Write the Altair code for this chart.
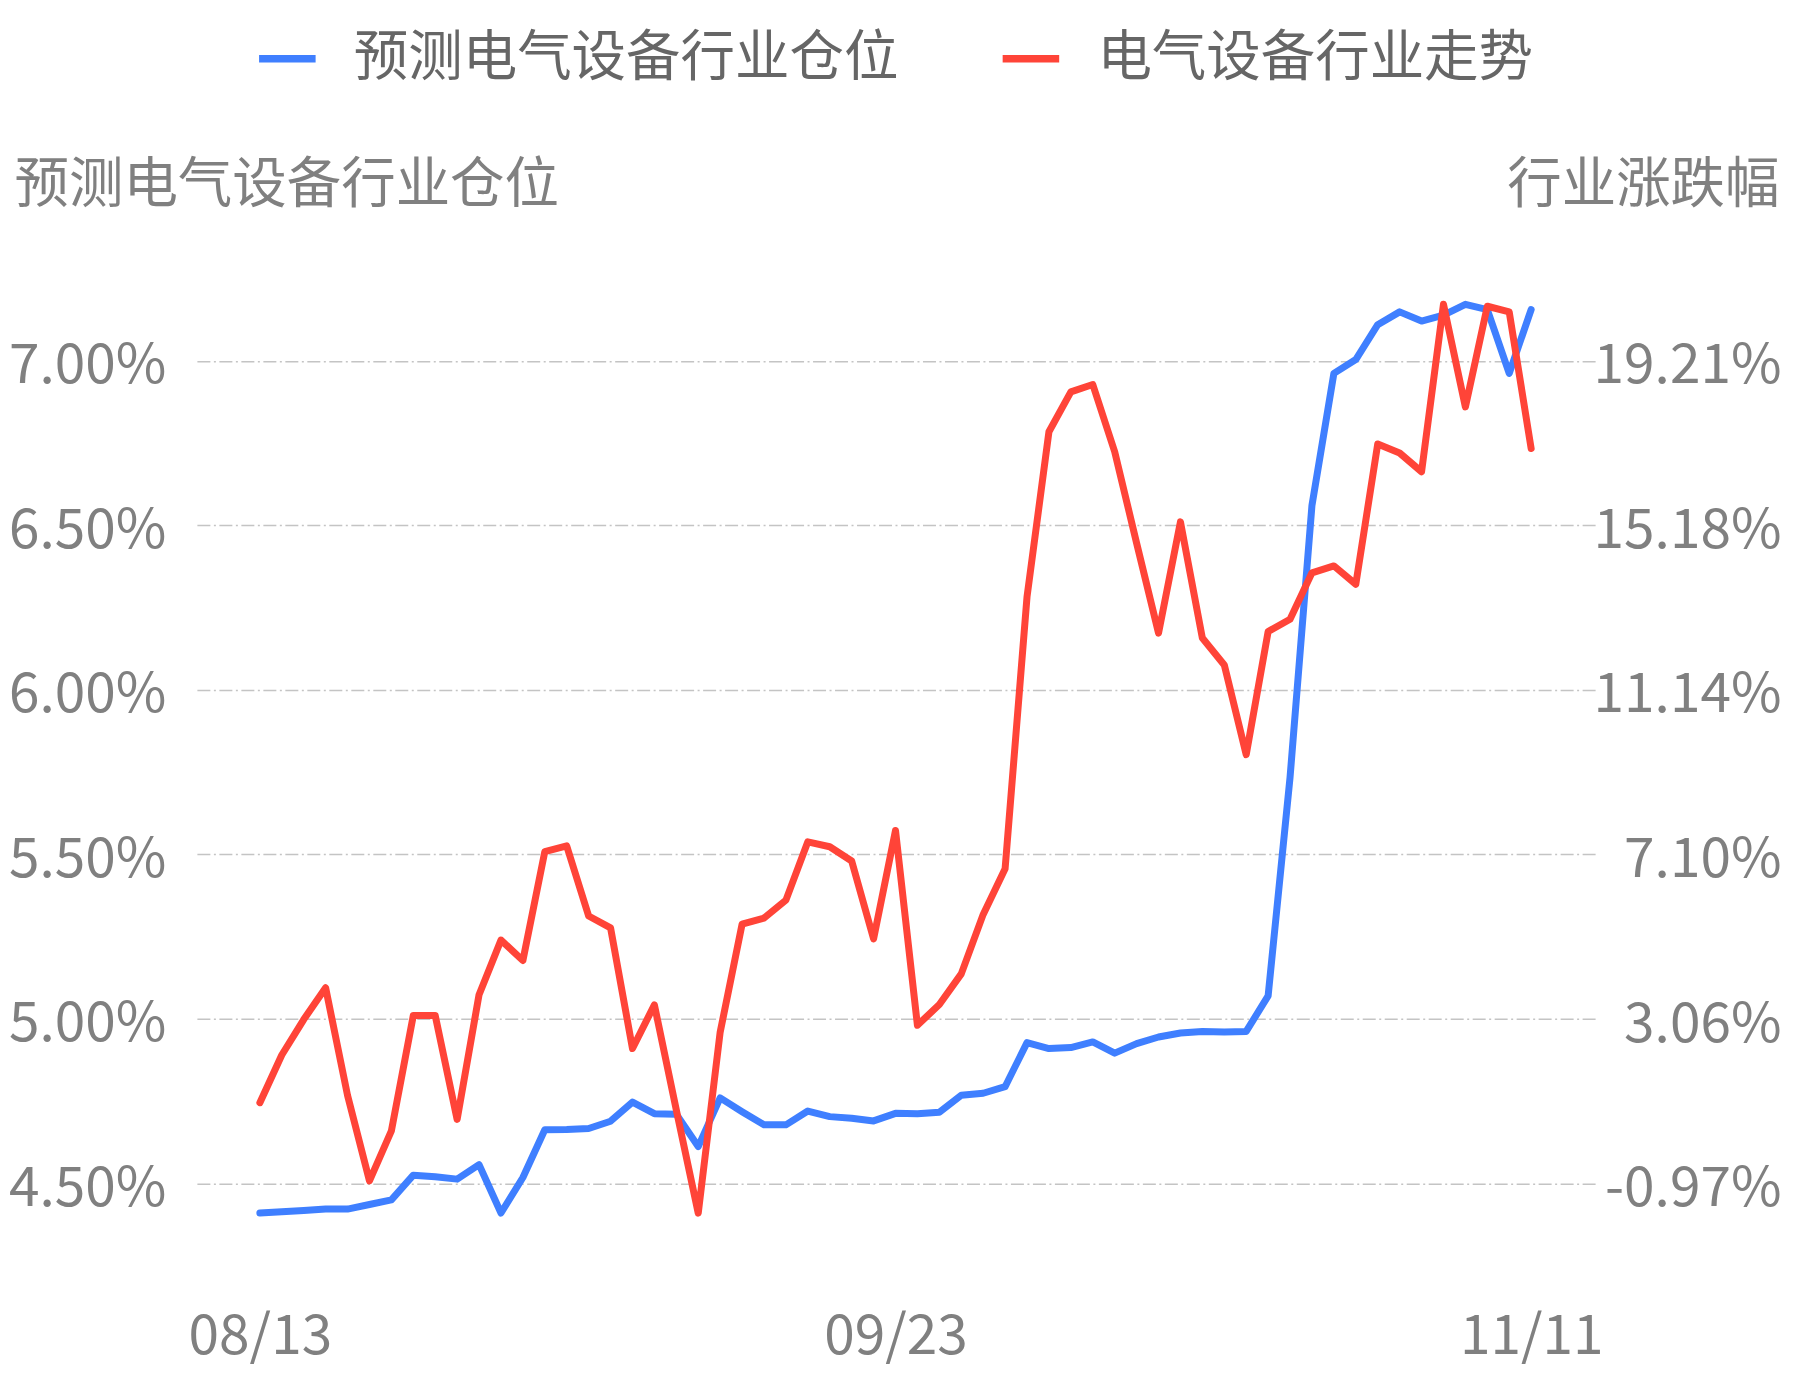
import altair as alt
import pandas as pd

dates = [
    "08/13", "08/14", "08/15", "08/18", "08/19", "08/20", "08/21", "08/22",
    "08/25", "08/26", "08/27", "08/28", "08/29",
    "09/01", "09/02", "09/03", "09/04", "09/05",
    "09/08", "09/09", "09/10", "09/11", "09/12",
    "09/15", "09/16", "09/17", "09/18", "09/19",
    "09/22", "09/23", "09/24", "09/25", "09/26", "09/29", "09/30",
    "10/09", "10/10", "10/13", "10/14", "10/15", "10/16", "10/17",
    "10/20", "10/21", "10/22", "10/23", "10/24",
    "10/27", "10/28", "10/29", "10/30", "10/31",
    "11/03", "11/04", "11/05", "11/06", "11/07", "11/10", "11/11",
]

# 预测电气设备行业仓位 (%)
position = [
    4.410, 4.414, 4.418, 4.422, 4.422, 4.436, 4.450, 4.525, 4.520, 4.513,
    4.557, 4.410, 4.518, 4.663, 4.664, 4.667, 4.689, 4.747, 4.712, 4.710,
    4.612, 4.760, 4.718, 4.678, 4.678, 4.720, 4.703, 4.698, 4.690, 4.713,
    4.712, 4.716, 4.768, 4.774, 4.794, 4.928, 4.910, 4.913, 4.930, 4.896,
    4.925, 4.945, 4.957, 4.962, 4.960, 4.962, 5.070, 5.734, 6.561, 6.962,
    7.004, 7.110, 7.149, 7.121, 7.139, 7.172, 7.156, 6.962, 7.156,
]

# 电气设备行业走势 (行业涨跌幅, %)
change = [
    1.01, 2.18, 3.05, 3.83, 1.19, -0.91, 0.32, 3.15, 3.15, 0.60,
    3.66, 5.00, 4.50, 7.17, 7.31, 5.59, 5.30, 2.34, 3.41, 0.83,
    -1.70, 2.74, 5.39, 5.54, 5.98, 7.41, 7.29, 6.94, 5.03, 7.69,
    2.91, 3.42, 4.17, 5.63, 6.75, 13.42, 17.47, 18.45, 18.63, 16.98,
    14.74, 12.53, 15.26, 12.41, 11.75, 9.55, 12.57, 12.87, 14.01, 14.18,
    13.73, 17.17, 16.95, 16.49, 20.60, 18.08, 20.55, 20.41, 17.06,
]

x_labels = ["08/13", "09/23", "11/11"]
left_ticks = [4.5, 5.0, 5.5, 6.0, 6.5, 7.0]
right_ticks = [-0.97, 3.06, 7.10, 11.14, 15.18, 19.21]

name_pos = "预测电气设备行业仓位"
name_chg = "电气设备行业走势"

df = pd.DataFrame({
    "idx": list(range(len(dates))),
    "date": dates,
    "position": position,
    "change": change,
})

x_label_idx = [dates.index(d) for d in x_labels]
x_label_expr = " : ".join(
    f"datum.value == {i} ? '{d}'" for i, d in zip(x_label_idx[:-1], x_labels[:-1])
) + f" : '{x_labels[-1]}'"

pct_expr = "(datum.value < 0 ? '-' : '') + format(abs(datum.value), '.2f') + '%'"

FONT = "Noto Sans CJK SC"
BLUE = "#3F7FFF"
RED = "#FF4438"
TEXT = "#808080"
LINE_W = 7

color_scale = alt.Scale(domain=[name_pos, name_chg], range=[BLUE, RED])
legend = alt.Legend(
    title=None, orient="none", direction="horizontal",
    legendX=58, legendY=-234, padding=0,
    symbolType="stroke", symbolSize=3200, symbolStrokeWidth=7.5,
    labelFont=FONT, labelFontSize=54.5, labelColor="#666666",
    labelOffset=34, labelLimit=2000, columnPadding=88,
)

x_enc = alt.X(
    "idx:Q",
    scale=alt.Scale(domain=[-2.873, 60.918], nice=False, zero=False),
    axis=alt.Axis(
        values=x_label_idx, labelExpr=x_label_expr, labelAngle=0, title=None,
        domain=False, ticks=False, tickSize=0, grid=False,
        labelFont=FONT, labelFontSize=55, labelColor=TEXT,
        labelPadding=51, labelFlush=False, labelOverlap=False,
    ),
)

base = alt.Chart(df)

line_pos = base.mark_line(strokeWidth=LINE_W, strokeJoin="round", strokeCap="round").encode(
    x=x_enc,
    y=alt.Y(
        "position:Q",
        scale=alt.Scale(domain=[4.2682, 7.3059], nice=False, zero=False),
        axis=alt.Axis(
            orient="left", values=left_ticks, labelExpr=pct_expr,
            domain=False, ticks=False, tickSize=0,
            grid=True, gridColor="#c4c4c4", gridWidth=1.5,
            gridDash=[13, 3.5, 2, 3.5],
            labelFont=FONT, labelFontSize=55, labelColor=TEXT,
            labelPadding=31, labelOffset=5, labelLimit=400,
            title=name_pos, titleAngle=0, titleAlign="left",
            titleBaseline="middle", titleX=-183, titleY=-75,
            titleFont=FONT, titleFontSize=54.5, titleFontWeight="normal",
            titleColor=TEXT, titleLimit=2000,
        ),
    ),
    color=alt.Color("series:N", scale=color_scale, legend=legend),
).transform_calculate(series=f"'{name_pos}'")

line_chg = base.mark_line(strokeWidth=LINE_W, strokeJoin="round", strokeCap="round").encode(
    x=x_enc,
    y=alt.Y(
        "change:Q",
        scale=alt.Scale(domain=[-2.841, 21.679], nice=False, zero=False),
        axis=alt.Axis(
            orient="right", values=right_ticks, labelExpr=pct_expr,
            domain=False, ticks=False, tickSize=0, grid=False,
            labelFont=FONT, labelFontSize=55, labelColor=TEXT,
            labelAlign="right", labelPadding=186, labelOffset=5, labelLimit=400,
            title="行业涨跌幅", titleAngle=0, titleAlign="right",
            titleBaseline="middle", titleX=184, titleY=-75,
            titleFont=FONT, titleFontSize=54.5, titleFontWeight="normal",
            titleColor=TEXT, titleLimit=2000,
        ),
    ),
    color=alt.Color("series:N", scale=color_scale, legend=legend),
).transform_calculate(series=f"'{name_chg}'")

chart = alt.layer(line_pos, line_chg).resolve_scale(y="independent").properties(
    width=1399, height=1000,
    autosize=alt.AutoSizeParams(type="none"),
    padding={"left": 189, "top": 252, "right": 190, "bottom": 110},
).configure(font=FONT, background="white").configure_view(stroke=None)

chart.save("out.html", embed_options={"renderer": "svg", "actions": False})
